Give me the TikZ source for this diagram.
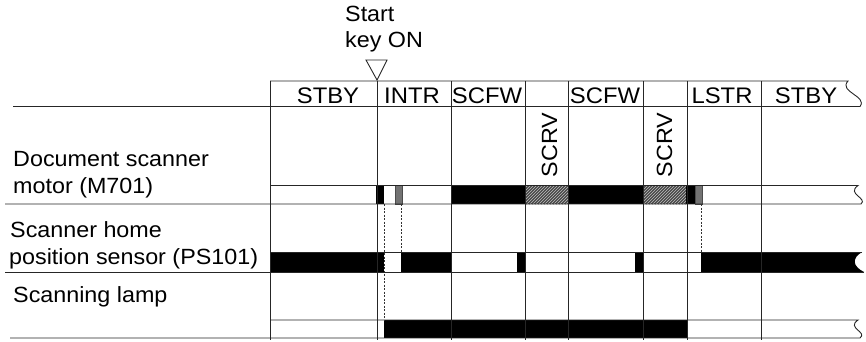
\documentclass[tikz,border=0pt]{standalone}
\usepackage{fontspec}
\setmainfont{Liberation Sans}[FakeStretch=1.06]
\usetikzlibrary{patterns,positioning}

\begin{document}
\begin{tikzpicture}[
    x=1pt, y=-1pt,
    frame/.style={line width=0.9pt, black!85},
    lbl/.style={anchor=base west, inner sep=0pt, font=\fontsize{22}{26}\selectfont},
    hdr/.style={anchor=base, inner sep=0pt, font=\fontsize{22.5}{26}\selectfont},
    vlbl/.style={anchor=base, inner sep=0pt, rotate=90, font=\fontsize{22}{26}\selectfont},
    high/.style={fill=black},
    partial/.style={fill=black!55, draw=black!70, line width=0.6pt},
    hatch/.style={fill=black!72, postaction={pattern=north east lines, pattern color=black!25}},
    timing/.style={line width=0.8pt, black!80, dash pattern=on 2pt off 1.5pt}
]
\useasboundingbox (0,0) rectangle (866,341);

% start key
\node[lbl] (start) at (345,21) {Start};
\node[lbl] (keyon) at (345,47) {key ON};
\draw[frame] (366,60) -- (387,60) -- (377,80) -- cycle;

% row labels
\node[lbl] (motA) at (13,166) {Document scanner};
\node[lbl] (motB) at (13,193) {motor (M701)};
\node[lbl] (senA) at (10,237) {Scanner home};
\node[lbl] (senB) at (9,264) {position sensor (PS101)};
\node[lbl] (lamp) at (13,302) {Scanning lamp};

% sequence names
\node[hdr] (stby1) at (328,103) {STBY};
\node[hdr] (intr)  at (412,103) {INTR};
\node[hdr] (scfw1) at (487,103) {SCFW};
\node[hdr] (scfw2) at (605,103) {SCFW};
\node[hdr] (lstr)  at (722,103) {LSTR};
\node[hdr] (stby2) at (806,103) {STBY};
\node[vlbl] (scrv1) at (557,145) {SCRV};
\node[vlbl] (scrv2) at (672,145) {SCRV};

% motor M701
\fill[high] (376,185.5) rectangle (384,204);
\filldraw[partial] (395,185.5) rectangle (402,204);
\fill[high] (451,185.5) rectangle (525,204);
\fill[hatch] (525,185.5) rectangle (568,204);
\fill[high] (568,185.5) rectangle (643,204);
\fill[hatch] (643,185.5) rectangle (686,204);
\fill[high] (686,185.5) rectangle (695,204);
\filldraw[partial] (695,185.5) rectangle (702,204);

% sensor PS101
\fill[high] (270,252) rectangle (384,272);
\fill[high] (401,252) rectangle (451,272);
\fill[high] (517,252) rectangle (525,272);
\fill[high] (635,252) rectangle (643,272);
\fill[high] (701,252) -- (862,252) .. controls (852,258) and (852,266) .. (864,272) -- (701,272) -- cycle;

% lamp
\fill[high] (384,320) rectangle (687,338);

% timing marks
\draw[timing] (384,204) -- (384,320);
\draw[timing] (401,204) -- (401,252);
\draw[timing] (701,204) -- (701,252);

% table lines
\draw[frame] (270,81) -- (848,81) .. controls (838,92) and (868,96) .. (860,106.5) -- (13,106.5);
\draw[frame] (270,185.5) -- (858,185.5) .. controls (846,194) and (868,198) .. (861,204) -- (5,204);
\draw[frame] (270,252) -- (862,252);
\draw[frame] (5,272) -- (864,272);
\draw[frame] (270,320) -- (858,320) .. controls (846,328) and (868,332) .. (860,338) -- (10,338);
\foreach \x in {270,377,451,525,568,643,687,761}
    \draw[frame] (\x,81) -- (\x,340);
\end{tikzpicture}
\end{document}
